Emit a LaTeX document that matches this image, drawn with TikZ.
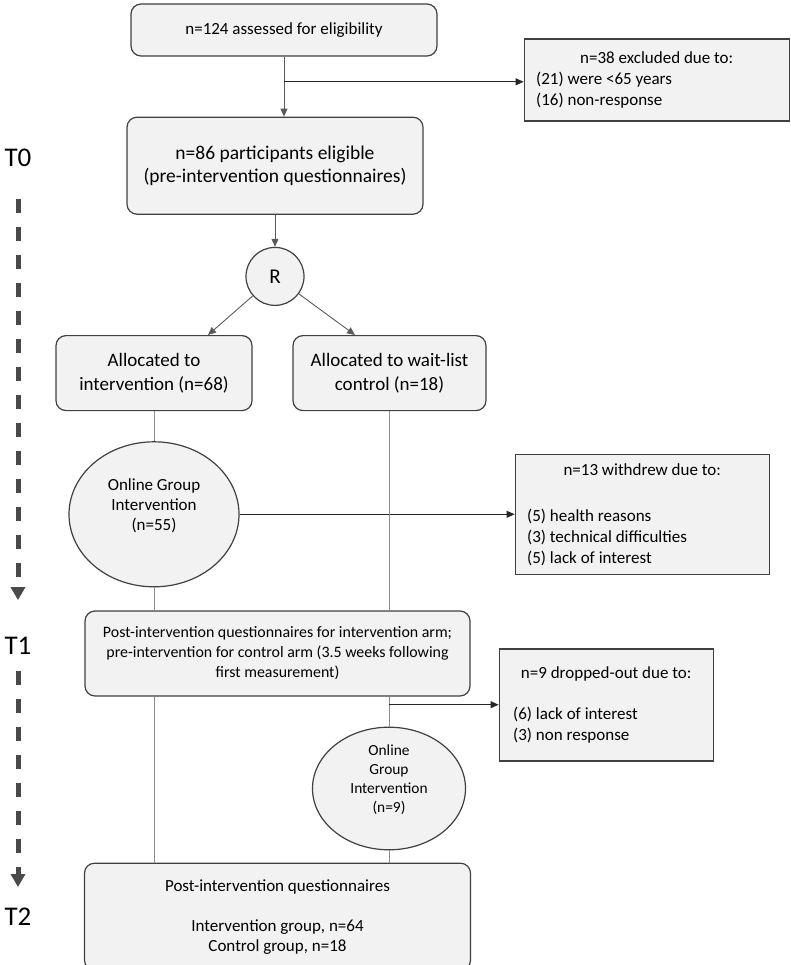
\documentclass[tikz,border=0pt]{standalone}
\usepackage{fontspec}
\setmainfont{Carlito}
\usepackage{tikz}
\usetikzlibrary{shapes.geometric,arrows.meta,positioning,calc}
\definecolor{boxfill}{HTML}{F2F2F2}
\definecolor{boxline}{HTML}{404040}
\definecolor{linkgray}{HTML}{5A5A5A}
\definecolor{branchgray}{HTML}{8C8C8C}
\definecolor{timegray}{HTML}{4A4A4A}

\begin{document}
\begin{tikzpicture}[
    x=1pt, y=1pt,
    stage/.style={rectangle, draw=boxline, fill=boxfill, line width=1.2pt, rounded corners=10pt, align=center, inner sep=4pt},
    lossbox/.style={rectangle, draw=boxline, fill=boxfill, line width=1.2pt, align=flush left, font=\fontsize{17}{21}\selectfont},
    arm/.style={ellipse, draw=boxline, fill=boxfill, line width=1.2pt, align=center, inner sep=0pt},
    arrow/.style={-{Triangle[width=7pt,length=8pt]}, draw=linkgray, line width=0.9pt},
    exitarrow/.style={-{Triangle[width=7pt,length=8pt]}, draw=black!85, line width=0.9pt},
    link/.style={draw=branchgray, line width=1pt},
    timeline/.style={draw=timegray, line width=5pt, dash pattern=on 14pt off 14pt, -{Triangle[width=14pt,length=13pt]}},
    timelabel/.style={font=\fontsize{27}{30}\selectfont, inner sep=0pt}
]
\useasboundingbox (0,0) rectangle (791,-965);

% Enrolment
\node[stage, minimum width=306pt, minimum height=52pt, font=\fontsize{17}{21}\selectfont] (assessed) at (284,-30) {n=124 assessed for eligibility};
\node[stage, below=60pt of assessed, xshift=-9pt, minimum width=296pt, minimum height=97pt, font=\fontsize{19.5}{23}\selectfont] (eligible) {n=86 participants eligible\\(pre-intervention questionnaires)};
\node[lossbox, right=86pt of assessed, yshift=-50pt, text width=241pt, inner xsep=12pt, minimum height=82pt] (excluded) {\makebox[\linewidth]{n=38 excluded due to:}\\(21) were <65 years\\(16) non-response};

% Randomisation
\node[circle, draw=boxline, fill=boxfill, line width=1.2pt, minimum size=58pt, inner sep=0pt, font=\fontsize{21}{24}\selectfont, below=32pt of eligible] (rand) {R};
\node[stage, below=29pt of rand, xshift=-121pt, minimum width=196pt, minimum height=75pt, font=\fontsize{19}{24}\selectfont] (intarm) {Allocated to\\intervention (n=68)};
\node[stage, below=29pt of rand, xshift=114.5pt, minimum width=193pt, minimum height=75pt, font=\fontsize{19}{24}\selectfont] (ctlarm) {Allocated to wait-list\\control (n=18)};

% Intervention arm
\node[arm, below=30pt of intarm, minimum width=170pt, minimum height=145pt, font=\fontsize{17}{20}\selectfont] (online1) {Online Group\\Intervention\\(n=55)\\\mbox{}};
\node[lossbox, right=275pt of online1, text width=230pt, inner xsep=12pt, minimum height=120pt] (withdrew) {\makebox[\linewidth]{n=13 withdrew due to:}\\[25pt](5) health reasons\\(3) technical difficulties\\(5) lack of interest};

% First follow-up, control arm starts
\node[stage, below=23pt of online1, xshift=123.5pt, minimum width=385pt, minimum height=85pt, font=\fontsize{15.9}{20}\selectfont] (post1) {Post-intervention questionnaires for intervention arm;\\pre-intervention for control arm (3.5 weeks following\\first measurement)};
\node[arm, below=30pt of post1, xshift=111.5pt, minimum width=153pt, minimum height=120pt, font=\fontsize{15.4}{19}\selectfont] (online2) {Online\\Group\\Intervention\\(n=9)\\\mbox{}};
\node[lossbox, right=28pt of post1, yshift=-51.5pt, text width=186pt, inner xsep=14pt, minimum height=112pt] (dropped) {\makebox[\linewidth]{n=9 dropped-out due to:}\\[20pt](6) lack of interest\\(3) non response};

% Second follow-up
\node[stage, below=166pt of post1, minimum width=386pt, minimum height=107pt, font=\fontsize{17}{20}\selectfont] (post2) {Post-intervention questionnaires\\[20pt]Intervention group, n=64\\Control group, n=18};

% Time points
\node[timelabel] (t0) at (18,-158) {T0};
\node[timelabel] (t1) at (18,-646) {T1};
\node[timelabel] (t2) at (18,-917) {T2};

% Arrows - enrolment
\draw[arrow] (assessed) -- (assessed |- eligible.north);
\coordinate (exitA) at ($(assessed.south)!0.42!(assessed.south |- eligible.north)$);
\draw[exitarrow] (exitA) -- (exitA -| excluded.west);
\draw[arrow] (eligible) -- (rand);
\draw[arrow] (rand) -- ([xshift=54pt]intarm.north);
\draw[arrow] (rand) -- ([xshift=-34.5pt]ctlarm.north);

% Lines - arms
\draw[link] (intarm) -- (online1);
\draw[exitarrow] (online1.east) -- (online1.east -| withdrew.west);
\draw[link] (online1.south) -- (online1.south |- post1.north);
\draw[link] (ctlarm.south) -- (ctlarm.south |- post1.north);
\draw[link] (post1.south -| online2.north) -- (online2.north);
\coordinate (exitB) at ($(post1.south -| online2.north)!0.27!(online2.north)$);
\draw[exitarrow] (exitB) -- (exitB -| dropped.west);
\draw[link] (post1.south -| online1.south) -- (online1.south |- post2.north);
\draw[link] (online2.south) -- (online2.south |- post2.north);

% Time line
\draw[timeline] ([yshift=-32pt]t0.south) -- ([yshift=37pt]t1.north);
\draw[timeline] ([yshift=-16pt]t1.south) -- ([yshift=21pt]t2.north);

\end{tikzpicture}
\end{document}
